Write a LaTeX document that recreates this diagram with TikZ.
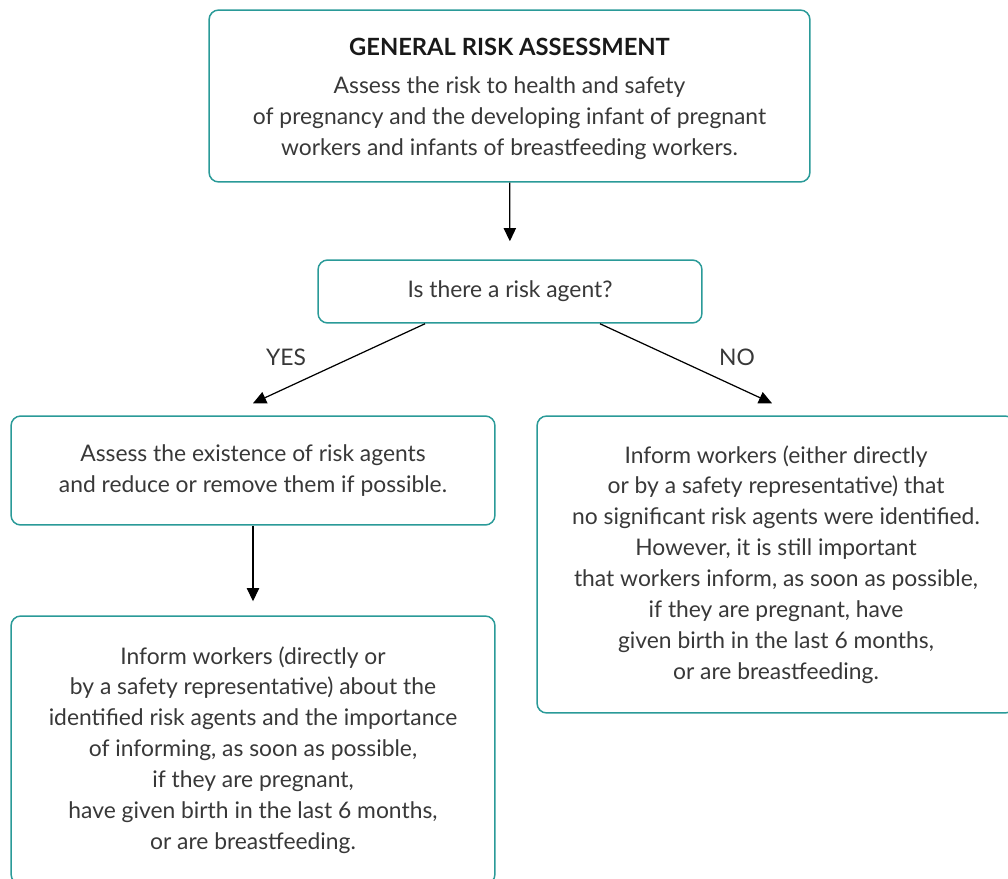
\documentclass[tikz,border=0pt]{standalone}
\usepackage{fontspec}
\setmainfont{Lato}
\usetikzlibrary{arrows.meta, positioning}
\definecolor{boxteal}{HTML}{2A9A98}
\definecolor{txtgray}{HTML}{383838}

\begin{document}
\begin{tikzpicture}[
        x=0.02cm, y=-0.02cm,
        every node/.style={align=center, text=txtgray, font=\fontsize{13}{17.6}\selectfont},
        box/.style={draw=boxteal, line width=0.85pt, rounded corners=5.5pt, inner sep=0pt},
        line/.style={-{Triangle[length=7.5pt, width=7pt]}, line width=0.7pt},
    ]
    \useasboundingbox (0,0) rectangle (1008,879);
    \clip (0,0) rectangle (1008,879);
    % Nodes
    \node[box, minimum width=12.02cm, minimum height=3.44cm] (general) at (509.5,96)
        {\rule{0pt}{0.45cm}{\fontsize{13.5}{15}\selectfont\bfseries\color{black!90} GENERAL RISK ASSESSMENT}\\[0.14cm]
         Assess the risk to health and safety\\
         of pregnancy and the developing infant of pregnant\\
         workers and infants of breastfeeding workers.};
    \node[box, minimum width=7.68cm, minimum height=1.26cm] (question) at (510,291.5) {Is there a risk agent?};
    \node[box, minimum width=9.68cm, minimum height=2.18cm] (reduce) at (253,470.5)
        {Assess the existence of risk agents\\
         and reduce or remove them if possible.};
    \node[box, minimum width=9.56cm, minimum height=5.94cm] (noagent) at (776,564.5)
        {Inform workers (either directly\\
         or by a safety representative) that\\
         no significant risk agents were identified.\\
         However, it is still important\\
         that workers inform, as soon as possible,\\
         if they are pregnant, have\\
         given birth in the last 6 months,\\
         or are breastfeeding.};
    \node[box, minimum width=9.68cm, minimum height=5.36cm] (inform) at (253,750)
        {Inform workers (directly or\\
         by a safety representative) about the\\
         identified risk agents and the importance\\
         of informing, as soon as possible,\\
         if they are pregnant,\\
         have given birth in the last 6 months,\\
         or are breastfeeding.};
    \node (yes) at (286,357) {YES};
    \node (no) at (737,357) {NO};
    % Arrows
    \draw[line, shorten >=0.36cm] (general) -- (question);
    \draw[line] ([xshift=-1.7cm]question.south) -- ([yshift=0.24cm]reduce.north);
    \draw[line] ([xshift=1.8cm]question.south) -- ([xshift=-0.08cm, yshift=0.24cm]noagent.north);
    \draw[line, shorten >=0.28cm] (reduce) -- (inform);
\end{tikzpicture}
\end{document}
